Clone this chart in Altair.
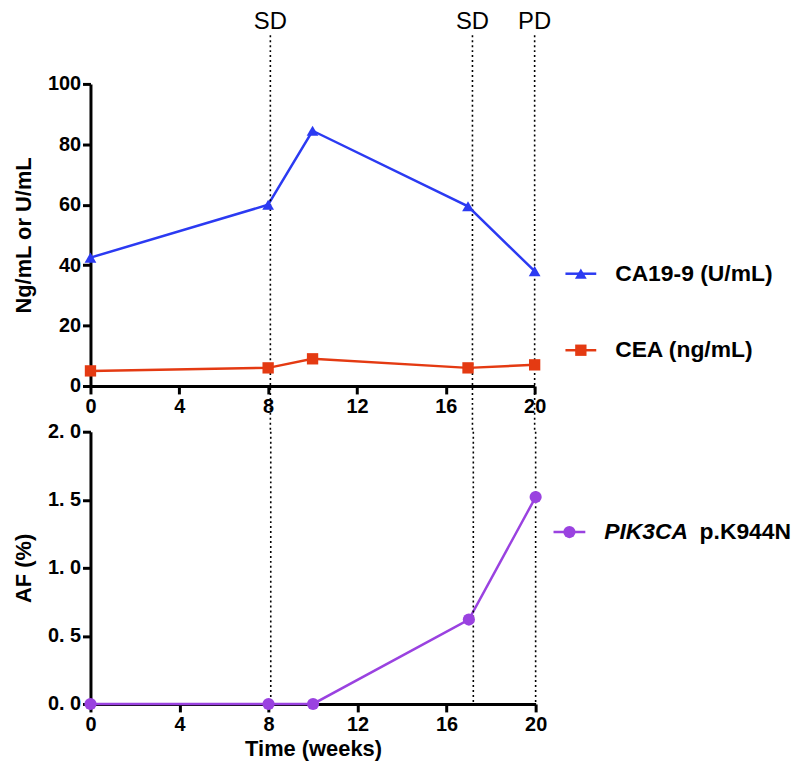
import altair as alt
import pandas as pd

# ---- data ----
weeks = [0, 8, 10, 17, 20]
ca199 = [42.5, 60.0, 84.5, 59.5, 38.0]
cea = [5.0, 6.0, 9.0, 6.0, 7.0]
pik3ca = [0.0, 0.0, 0.0, 0.62, 1.52]
event_weeks = [8.1, 17.2, 20.0]
event_labels = ["SD", "SD", "PD"]
x_ticks = [0, 4, 8, 12, 16, 20]
top_y_ticks = [0, 20, 40, 60, 80, 100]
bot_y_ticks = [0.0, 0.5, 1.0, 1.5, 2.0]
series_names = ["CA19-9 (U/mL)", "CEA (ng/mL)"]
gene_name = "PIK3CA"
variant_name = "p.K944N"

BLUE = "#2b3af2"
RED = "#e43a12"
PURPLE = "#9a42e0"
FONT = "Liberation Sans"

TOP_W, TOP_H = 447, 304
BOT_W, BOT_H = 448, 274
GAP = 46

df_ca = pd.DataFrame({"week": weeks, "value": ca199})
df_cea = pd.DataFrame({"week": weeks, "value": cea})
df_pik = pd.DataFrame({"week": weeks, "value": pik3ca})
df_ev = pd.DataFrame({"week": event_weeks, "label": event_labels})

xscale = alt.Scale(domain=[0, 20], nice=False, zero=True)

def xenc(show_title):
    return alt.X(
        "week:Q",
        scale=xscale,
        axis=alt.Axis(values=x_ticks, title="Time (weeks)" if show_title else None, format="d",
                      labelPadding=3, titlePadding=4),
    )

# ---- top panel ----
top_y = alt.Y(
    "value:Q",
    scale=alt.Scale(domain=[0, 100], nice=False),
    axis=alt.Axis(values=top_y_ticks, title="Ng/mL or U/mL", titlePadding=12),
)

ca_line = alt.Chart(df_ca).mark_line(color=BLUE, strokeWidth=2.5).encode(x=xenc(False), y=top_y)
ca_pts = alt.Chart(df_ca).mark_point(shape="triangle-up", filled=True, size=140, color=BLUE, opacity=1).encode(
    x=xenc(False), y=top_y
)
cea_line = alt.Chart(df_cea).mark_line(color=RED, strokeWidth=2.5).encode(x=xenc(False), y=top_y)
cea_pts = alt.Chart(df_cea).mark_point(shape="square", filled=True, size=130, color=RED, opacity=1).encode(
    x=xenc(False), y=top_y
)

ev_rules_top = alt.Chart(df_ev).mark_rule(color="black", strokeWidth=1.6, strokeDash=[2, 3]).encode(
    x=alt.X("week:Q", scale=xscale), y=alt.value(-49), y2=alt.value(TOP_H + GAP)
)
ev_text = alt.Chart(df_ev).mark_text(font=FONT, fontSize=24, color="black", baseline="middle").encode(
    x=alt.X("week:Q", scale=xscale), y=alt.value(-62), text="label:N"
)

def legend_item(name, color, shape, size, y, x0, x1, xt):
    d = pd.DataFrame({"label": [name]})
    seg = alt.Chart(d).mark_rule(color=color, strokeWidth=2.5).encode(
        x=alt.value(x0), x2=alt.value(x1), y=alt.value(y)
    )
    pt = alt.Chart(d).mark_point(shape=shape, filled=True, size=size, color=color, opacity=1).encode(
        x=alt.value((x0 + x1) / 2), y=alt.value(y)
    )
    tx = alt.Chart(d).mark_text(
        font=FONT, fontSize=23, fontWeight="bold", color="black", align="left", baseline="middle"
    ).encode(x=alt.value(xt), y=alt.value(y), text="label:N")
    return [seg, pt, tx]

leg_top = legend_item(series_names[0], BLUE, "triangle-up", 140, 191, 478, 509, 528) + legend_item(
    series_names[1], RED, "square", 130, 268, 478, 509, 528
)

top = alt.layer(ca_line, cea_line, ev_rules_top, ca_pts, cea_pts, ev_text, *leg_top).properties(
    width=TOP_W, height=TOP_H
)

# ---- bottom panel ----
bot_y = alt.Y(
    "value:Q",
    scale=alt.Scale(domain=[0, 2], nice=False),
    axis=alt.Axis(
        values=bot_y_ticks,
        title="AF (%)",
        titlePadding=12,
        labelExpr="replace(format(datum.value, '.1f'), '.', '. ')",
    ),
)

pik_line = alt.Chart(df_pik).mark_line(color=PURPLE, strokeWidth=2.5).encode(x=xenc(True), y=bot_y)
pik_pts = alt.Chart(df_pik).mark_point(shape="circle", filled=True, size=150, color=PURPLE, opacity=1).encode(
    x=xenc(True), y=bot_y
)
ev_rules_bot = alt.Chart(df_ev).mark_rule(color="black", strokeWidth=1.6, strokeDash=[2, 3]).encode(
    x=alt.X("week:Q", scale=xscale), y=alt.value(0), y2=alt.value(BOT_H)
)

leg_d = pd.DataFrame({"gene": [gene_name], "variant": [variant_name]})
pik_seg = alt.Chart(leg_d).mark_rule(color=PURPLE, strokeWidth=2.5).encode(
    x=alt.value(466), x2=alt.value(498), y=alt.value(101)
)
pik_lpt = alt.Chart(leg_d).mark_point(shape="circle", filled=True, size=150, color=PURPLE, opacity=1).encode(
    x=alt.value(482), y=alt.value(101)
)
pik_t1 = alt.Chart(leg_d).mark_text(
    font=FONT, fontSize=23, fontWeight="bold", fontStyle="italic", color="black", align="left", baseline="middle"
).encode(x=alt.value(517), y=alt.value(101), text="gene:N")
pik_t2 = alt.Chart(leg_d).mark_text(
    font=FONT, fontSize=23, fontWeight="bold", color="black", align="left", baseline="middle"
).encode(x=alt.value(613), y=alt.value(101), text="variant:N")

bottom = alt.layer(pik_line, ev_rules_bot, pik_pts, pik_seg, pik_lpt, pik_t1, pik_t2).properties(
    width=BOT_W, height=BOT_H
)

chart = (
    alt.vconcat(top, bottom, spacing=GAP, bounds="flush")
    .properties(padding={"left": 4, "top": 0, "right": 0, "bottom": 0})
    .configure_view(stroke=None)
    .configure_axis(
        grid=False,
        domainColor="black",
        domainWidth=3,
        tickColor="black",
        tickWidth=3,
        tickSize=8,
        labelFont=FONT,
        labelFontSize=20,
        labelFontWeight="bold",
        labelColor="black",
        labelPadding=2,
        titleFont=FONT,
        titleFontSize=22,
        titleFontWeight="bold",
        titleColor="black",
    )
    .configure_axisX(labelFlush=False)
)

chart.save("out.html", embed_options={"renderer": "svg", "actions": False})
